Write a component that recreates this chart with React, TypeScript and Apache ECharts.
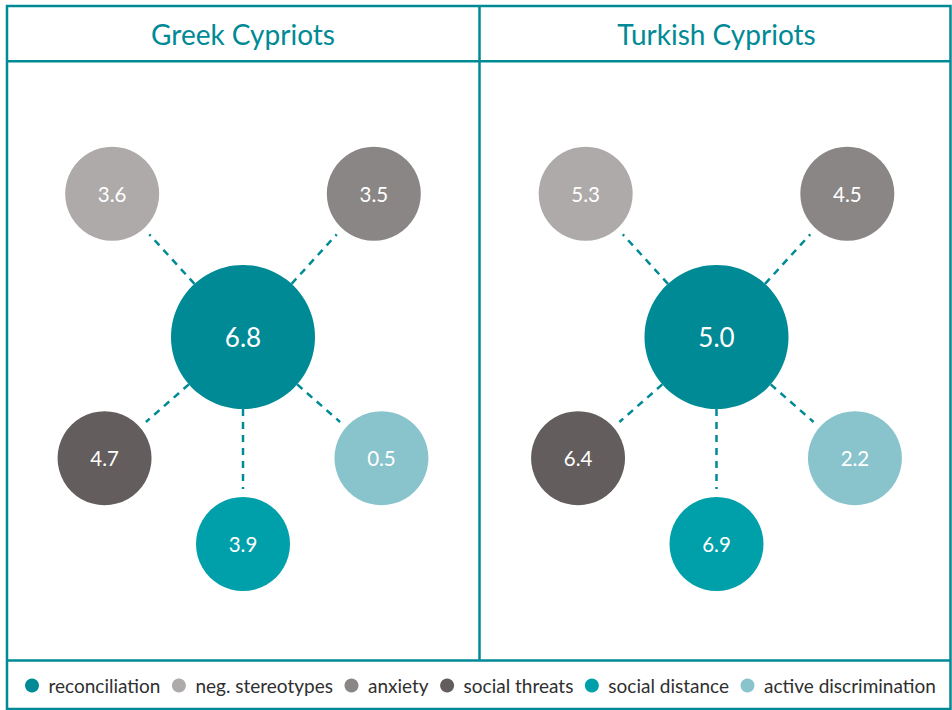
import React, { useEffect, useRef } from "react";
import * as echarts from "echarts";

// ---- data ----
const categories = [
  "reconciliation",
  "neg. stereotypes",
  "anxiety",
  "social threats",
  "social distance",
  "active discrimination",
];
const groups = ["Greek Cypriots", "Turkish Cypriots"];
const greekValues = [6.8, 3.6, 3.5, 4.7, 3.9, 0.5];
const turkishValues = [5.0, 5.3, 4.5, 6.4, 6.9, 2.2];

// ---- layout & style (not data) ----
const groupValues = [greekValues, turkishValues];
const colors = ["#008a96", "#adaaa9", "#8a8685", "#635d5d", "#00a0ab", "#89c4cc"];
const nodeAngle = [0, 132.4, 47.6, 221.2, 270, 318.8];
const nodeDist = [0, 194, 194, 184, 207, 184];
const panelCenters = [
  [243, 337],
  [716.5, 337],
];
const R = 240;
const TEAL = "#008a96";
const FONT = "Lato";
const CENTER_R = 72;
const OUTER_R = 47;

export default function App() {
  const ref = useRef<HTMLDivElement>(null);
  useEffect(() => {
    const chart = echarts.init(ref.current!, null, { renderer: "svg" });
    const polar = panelCenters.map((c) => ({ center: c, radius: R }));
    const angleAxis = panelCenters.map((_, i) => ({
      polarIndex: i,
      type: "value",
      min: 0,
      max: 360,
      startAngle: 0,
      clockwise: false,
      show: false,
    }));
    const radiusAxis = panelCenters.map((_, i) => ({
      polarIndex: i,
      type: "value",
      min: 0,
      max: R,
      show: false,
    }));

    const series: any[] = [];
    groupValues.forEach((vals, p) => {
      for (let k = 1; k < categories.length; k++) {
        series.push({
          type: "line",
          coordinateSystem: "polar",
          polarIndex: p,
          symbol: "none",
          silent: true,
          z: 1,
          lineStyle: { color: TEAL, width: 2.5, type: [7, 6] },
          data: [
            [CENTER_R, nodeAngle[k]],
            [nodeDist[k] - OUTER_R - 8, nodeAngle[k]],
          ],
        });
      }
      categories.forEach((name, k) => {
        series.push({
          type: "scatter",
          name,
          coordinateSystem: "polar",
          polarIndex: p,
          z: 2,
          symbol: "circle",
          symbolSize: k === 0 ? CENTER_R * 2 : OUTER_R * 2,
          itemStyle: { color: colors[k], opacity: 1 },
          label: {
            show: true,
            position: "inside",
            color: "#ffffff",
            fontFamily: FONT,
            fontSize: k === 0 ? 26 : 20.5,
            formatter: (prm: any) => Number(prm.value[2]).toFixed(1),
          },
          data: [[nodeDist[k], nodeAngle[k], vals[k]]],
        });
      });
    });

    const line = (x1: number, y1: number, x2: number, y2: number) => ({
      type: "line",
      shape: { x1, y1, x2, y2 },
      style: { stroke: TEAL, lineWidth: 2.5 },
      silent: true,
    });

    chart.setOption({
      animation: false,
      backgroundColor: "#ffffff",
      polar,
      angleAxis,
      radiusAxis,
      legend: {
        data: categories,
        left: 20,
        top: 671,
        icon: "circle",
        itemWidth: 14,
        itemHeight: 14,
        itemGap: 11.5,
        selectedMode: false,
        textStyle: {
          fontFamily: FONT,
          fontSize: 19,
          color: "#2f2f2f",
          padding: [0, 0, 0, 4.5],
        },
      },
      graphic: [
        {
          type: "rect",
          shape: { x: 7, y: 6, width: 943.5, height: 703 },
          style: { fill: "none", stroke: TEAL, lineWidth: 2.5 },
          silent: true,
        },
        line(7, 61.3, 950.5, 61.3),
        line(479.5, 6, 479.5, 660.5),
        line(7, 660.5, 950.5, 660.5),
        ...groups.map((g, i) => ({
          type: "text",
          x: panelCenters[i][0],
          y: 33.5,
          style: {
            text: g,
            fill: TEAL,
            fontFamily: FONT,
            fontSize: 28,
            textAlign: "center",
            textVerticalAlign: "middle",
          },
          silent: true,
        })),
      ],
      series,
    });
    return () => chart.dispose();
  }, []);
  return (
    <div
      ref={ref}
      style={{ position: "absolute", left: 0, top: 0, width: 952, height: 710 }}
    />
  );
}
